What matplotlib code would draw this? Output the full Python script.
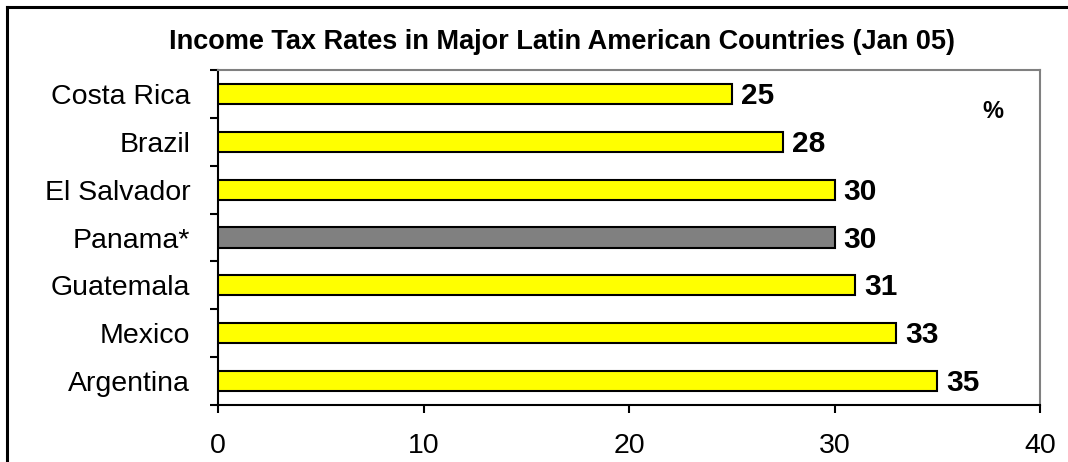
import matplotlib
matplotlib.use("Agg")
import matplotlib.pyplot as plt
from matplotlib.lines import Line2D
import numpy as np

countries = ["Costa Rica", "Brazil", "El Salvador", "Panama*", "Guatemala", "Mexico", "Argentina"]
rates = [25, 27.5, 30, 30, 31, 33, 35]
bar_colors = ["#FFFF00", "#FFFF00", "#FFFF00", "#808080", "#FFFF00", "#FFFF00", "#FFFF00"]
x_ticks = [0, 10, 20, 30, 40]

plt.rcParams["font.family"] = ["Liberation Sans", "DejaVu Sans"]

W, H = 1068, 462
fig = plt.figure(figsize=(W / 100, H / 100), dpi=100)
ax = fig.add_axes([218 / W, 1 - 405 / H, (1040 - 218) / W, (405 - 70) / H])

ypos = np.arange(len(countries))
bars = ax.barh(ypos, rates, height=0.42, color=bar_colors, edgecolor="black",
               linewidth=1.5, zorder=3)

# value labels, rounded to whole percent
for y, v in zip(ypos, rates):
    ax.annotate(f"{v:.0f}", (v, y), xytext=(6.5, -1.5), textcoords="offset points",
                ha="left", va="center", fontsize=21.5, fontweight="bold")

ax.set_xlim(0, 40)
ax.set_ylim(len(countries) - 0.5, -0.5)
ax.set_xticks(x_ticks)
ax.set_xticklabels([str(t) for t in x_ticks], fontsize=20.5)
ax.tick_params(axis="x", direction="out", length=6, width=1.5, pad=14)

ax.set_yticks(ypos)
ax.set_yticklabels(countries, fontsize=20.5)
ax.set_yticks(np.arange(-0.5, len(countries)), minor=True)
ax.tick_params(axis="y", which="major", length=0, pad=20)
ax.tick_params(axis="y", which="minor", direction="out", length=6, width=1.5)

for side in ("left", "bottom"):
    ax.spines[side].set_color("black")
    ax.spines[side].set_linewidth(1.5)
for side in ("top", "right"):
    ax.spines[side].set_color("#808080")
    ax.spines[side].set_linewidth(1.5)

ax.text(0.943, 0.875, "%", transform=ax.transAxes, ha="center", va="center",
        fontsize=17, fontweight="bold")

fig.text(562 / W, 1 - 42 / H, "Income Tax Rates in Major Latin American Countries (Jan 05)",
         ha="center", va="center", fontsize=19.5, fontweight="bold")

# outer frame (top and left edges)
fig.add_artist(Line2D([7 / W, 1], [1 - 7 / H, 1 - 7 / H], transform=fig.transFigure,
                      color="black", linewidth=2.2))
fig.add_artist(Line2D([7 / W, 7 / W], [0, 1 - 7 / H], transform=fig.transFigure,
                      color="black", linewidth=2.2))

fig.savefig("out.png", dpi=100)
